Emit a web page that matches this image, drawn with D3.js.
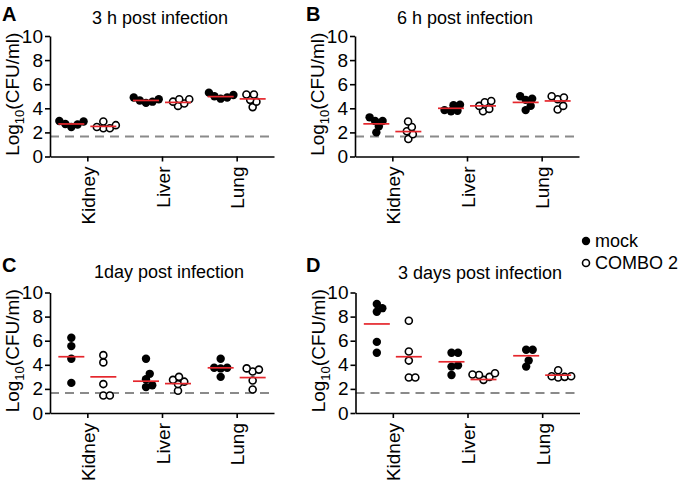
<!DOCTYPE html>
<html><head><meta charset="utf-8">
<script src="https://cdn.jsdelivr.net/npm/d3@7"></script>
<style>
html,body{margin:0;padding:0;background:#fff;}
text{font-family:"Liberation Sans",Arial,sans-serif;}
</style></head>
<body><svg id="chart" width="680" height="480"></svg>
<script>
// ---------- data ----------
const categories = ["Kidney", "Liver", "Lung"];
const seriesNames = ["mock", "COMBO 2"];
const panelLetters = ["A", "B", "C", "D"];
const panelTitles = ["3 h post infection", "6 h post infection", "1day post infection", "3 days post infection"];
const yTicks = [0, 2, 4, 6, 8, 10];
const detectionLimit = 1.67;

// values per panel: [Kidney, Liver, Lung]
const mockA  = [[2.95, 2.7, 2.45, 2.65, 2.9], [4.9, 4.65, 4.45, 4.55, 4.75], [5.3, 5.0, 4.8, 4.9, 5.1]];
const comboA = [[2.9, 2.45, 2.35, 2.35, 2.6], [4.75, 4.55, 4.2, 4.4, 4.75], [4.7, 5.15, 4.1, 5.15, 4.55]];
const mockB  = [[2.95, 2.95, 2.0, 2.5, 3.25], [4.25, 3.85, 3.75, 3.8, 4.3], [4.7, 5.0, 4.8, 4.2, 3.85]];
const comboB = [[2.45, 2.9, 2.1, 1.85, 1.45], [4.2, 4.6, 4.5, 3.75, 3.95], [4.75, 4.9, 5.0, 4.2, 3.9]];
const mockC  = [[6.25, 5.55, 4.5, 2.5], [4.5, 3.25, 2.8, 2.15, 2.3], [4.5, 3.75, 3.7, 3.75, 3.0]];
const comboC = [[4.8, 4.2, 2.4, 1.45, 1.45], [3.0, 2.6, 2.4, 2.75, 1.85], [3.7, 3.45, 3.6, 2.7, 1.95]];
const mockD  = [[9.05, 8.4, 8.7, 5.9, 5.0], [5.0, 5.0, 3.95, 3.85, 3.15], [5.25, 5.25, 3.85, 4.35]];
const comboD = [[7.65, 5.1, 4.35, 2.95, 2.95], [3.3, 3.15, 2.75, 3.0, 3.2], [3.55, 3.05, 2.95, 3.0, 3.05]];

// group means (red lines)
const meanMockA  = [2.7, 4.65, 4.97];
const meanComboA = [2.5, 4.49, 4.78];
const meanMockB  = [2.71, 4.0, 4.49];
const meanComboB = [2.07, 4.2, 4.61];
const meanMockC  = [4.67, 2.64, 3.75];
const meanComboC = [3.0, 2.44, 2.94];
const meanMockD  = [7.39, 4.25, 4.75];
const meanComboD = [4.67, 2.78, 3.14];

const panelMock  = [mockA, mockB, mockC, mockD];
const panelCombo = [comboA, comboB, comboC, comboD];
const panelMeanMock  = [meanMockA, meanMockB, meanMockC, meanMockD];
const panelMeanCombo = [meanComboA, meanComboB, meanComboC, meanComboD];

// ---------- layout ----------
const layout = [
  {x: 50,  top: 36,    letterX: 2,   letterY: 21,  titleX: 160, titleY: 24},
  {x: 355, top: 36,    letterX: 306, letterY: 21,  titleX: 465, titleY: 24},
  {x: 50,  top: 292.5, letterX: 2,   letterY: 272, titleX: 169, titleY: 278},
  {x: 355.5, top: 292.5, letterX: 306, letterY: 272, titleX: 480, titleY: 279}
];
const plotW = 224, plotH = 120.5;
const dotR = 4.2, ringR = 3.5, collide = 6.5;
const red = "#e5262c";

const svg = d3.select("#chart");

function beeswarm(vals, y) {
  const placed = [];
  const order = vals.map((v, i) => ({v, i, py: y(v)})).sort((a, b) => b.py - a.py);
  const cands = [0];
  for (let s = 0.25; s <= 30; s += 0.25) { cands.push(s, -s); }
  order.forEach(p => {
    for (const c of cands) {
      if (placed.every(q => Math.hypot(q.dx - c, q.py - p.py) >= collide - 1e-6)) {
        p.dx = c; break;
      }
    }
    placed.push(p);
  });
  return order;
}

layout.forEach((L, pi) => {
  const g = svg.append("g").attr("transform", `translate(${L.x},${L.top})`);
  const x = d3.scalePoint().domain(categories).range([0, plotW]).padding(0.5);
  const sub = d3.scalePoint().domain(seriesNames).range([-16, 16]);
  const y = d3.scaleLinear().domain([0, 10]).range([plotH, 0]);

  // detection limit
  g.append("line")
    .attr("x1", 0).attr("x2", plotW - 4)
    .attr("y1", y(detectionLimit)).attr("y2", y(detectionLimit))
    .attr("stroke", "#8a8a8a").attr("stroke-width", 2)
    .attr("stroke-dasharray", "9,6");

  // axes
  const yAxis = g.append("g").call(d3.axisLeft(y).tickValues(yTicks).tickSize(5).tickSizeOuter(0).tickPadding(2));
  const xAxis = g.append("g").attr("transform", `translate(0,${plotH})`)
    .call(d3.axisBottom(x).tickSize(5).tickSizeOuter(0).tickFormat(""));
  [yAxis, xAxis].forEach(a => {
    a.select(".domain").attr("stroke", "#000").attr("stroke-width", 1.6);
    a.selectAll(".tick line").attr("stroke", "#000").attr("stroke-width", 1.6);
  });
  yAxis.selectAll(".tick text").attr("font-size", 19).attr("fill", "#000")
    .attr("font-family", "'Liberation Sans',Arial,sans-serif");

  // x category labels (rotated)
  g.selectAll(".catlab").data(categories).enter().append("text")
    .attr("transform", d => `translate(${x(d) + 1},${plotH + 10}) rotate(-90)`)
    .attr("text-anchor", "end").attr("dy", "0.35em")
    .attr("font-size", 19).attr("fill", "#000").text(d => d);

  // y label
  const yl = g.append("text")
    .attr("transform", `translate(-31,${plotH / 2 - 2}) rotate(-90)`)
    .attr("text-anchor", "middle").attr("font-size", 19).attr("fill", "#000");
  yl.append("tspan").text("Log");
  yl.append("tspan").attr("font-size", 13).attr("dy", 5).text("10");
  yl.append("tspan").attr("dy", -5).text("(CFU/ml)");

  // points
  const groups = [panelMock[pi], panelCombo[pi]];
  groups.forEach((grp, si) => {
    grp.forEach((vals, ci) => {
      const cx = x(categories[ci]) + sub(seriesNames[si]);
      const pts = beeswarm(vals, y);
      g.selectAll(null).data(pts).enter().append("circle")
        .attr("cx", d => cx + d.dx).attr("cy", d => d.py)
        .attr("r", si === 0 ? dotR : ringR)
        .attr("fill", si === 0 ? "#000" : "#fff")
        .attr("stroke", "#000").attr("stroke-width", si === 0 ? 0 : 1.6);
    });
  });

  // mean lines
  [panelMeanMock[pi], panelMeanCombo[pi]].forEach((means, si) => {
    g.selectAll(null).data(means).enter().append("line")
      .attr("x1", (d, ci) => x(categories[ci]) + sub(seriesNames[si]) - 13)
      .attr("x2", (d, ci) => x(categories[ci]) + sub(seriesNames[si]) + 13)
      .attr("y1", d => y(d)).attr("y2", d => y(d))
      .attr("stroke", red).attr("stroke-width", 1.7);
  });

  // title and letter
  svg.append("text").attr("x", L.titleX).attr("y", L.titleY)
    .attr("text-anchor", "middle").attr("font-size", 18).attr("fill", "#000")
    .text(panelTitles[pi]);
  svg.append("text").attr("x", L.letterX).attr("y", L.letterY)
    .attr("font-size", 20).attr("font-weight", "bold").attr("fill", "#000")
    .text(panelLetters[pi]);
});

// legend
const leg = svg.append("g");
seriesNames.forEach((s, i) => {
  const yy = 241 + i * 22;
  leg.append("circle").attr("cx", 586).attr("cy", yy)
    .attr("r", i === 0 ? dotR : ringR)
    .attr("fill", i === 0 ? "#000" : "#fff")
    .attr("stroke", "#000").attr("stroke-width", i === 0 ? 0 : 1.6);
  leg.append("text").attr("x", 595).attr("y", yy + 6)
    .attr("font-size", 18).attr("fill", "#000").text(s);
});
</script>
</body></html>
